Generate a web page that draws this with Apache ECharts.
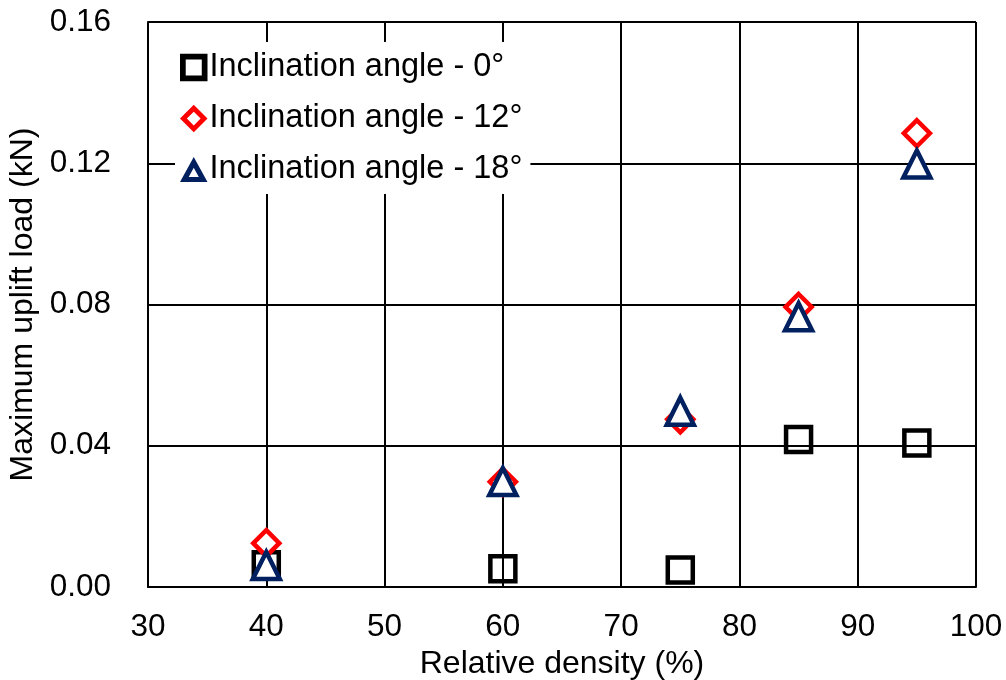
<!DOCTYPE html>
<html>
<head>
<meta charset="utf-8">
<script src="https://cdn.jsdelivr.net/npm/echarts@6/dist/echarts.min.js"></script>
<style>
  html, body { margin: 0; padding: 0; background: #fff; }
  #chart { width: 1006px; height: 680px; }
</style>
</head>
<body>
<div id="chart"></div>
<script>
// Relative density (%) of each test
const density = [40, 60, 75, 85, 95];
// Maximum uplift load (kN) for each inclination angle
const load0 = [0.0063, 0.0052, 0.0048, 0.0418, 0.0408];
const load12 = [0.0124, 0.0298, 0.0475, 0.0793, 0.1285];
const load18 = [0.0061, 0.0299, 0.0498, 0.0765, 0.1198];
const seriesNames = ['Inclination angle - 0°', 'Inclination angle - 12°', 'Inclination angle - 18°'];

const FONT = 'Liberation Sans, Arial, sans-serif';

function pairs(xs, ys) {
  return xs.map((x, i) => [x, ys[i]]);
}

const chart = echarts.init(document.getElementById('chart'), null, { renderer: 'canvas' });

// Marker styles; legend icons are thick outline rings (outer path + reversed inner hole)
const styles = [
  { symbol: 'rect', size: 25, color: 'transparent', border: '#000000',
    icon: 'path://M0,0H24V24H0Z M5,5V19H19V5Z' },
  { symbol: 'diamond', size: 26, color: '#ffffff', border: '#ff0000',
    icon: 'path://M12,0L24,12L12,24L0,12Z M12,6L6,12L12,18L18,12Z' },
  { symbol: 'triangle', size: 27, color: '#ffffff', border: '#002060',
    icon: 'path://M12,0L24,22L0,22Z M12,9.4L7.6,17.5L16.4,17.5Z' }
];
const values = [load0, load12, load18];

chart.setOption({
  animation: false,
  backgroundColor: '#ffffff',
  textStyle: { fontFamily: FONT, color: '#000' },
  grid: { left: 148, right: 30, top: 22, bottom: 93, containLabel: false, outerBoundsMode: 'none' },
  legend: {
    orient: 'vertical',
    left: 175,
    top: 42,
    padding: [9, 8, 8, 5],
    backgroundColor: '#ffffff',
    itemWidth: 27.5,
    itemHeight: 27.5,
    itemGap: 18,
    textStyle: { fontFamily: FONT, fontSize: 32.5, lineHeight: 32, color: '#000', padding: [0, 0, 0, -3] },
    data: seriesNames.map((n, i) => ({
      name: n,
      icon: styles[i].icon,
      itemStyle: { color: styles[i].border, borderWidth: 0 }
    }))
  },
  xAxis: {
    type: 'value',
    min: 30,
    max: 100,
    interval: 10,
    name: 'Relative density (%)',
    nameLocation: 'middle',
    nameGap: 60,
    nameTextStyle: { fontFamily: FONT, fontSize: 32, color: '#000' },
    axisLine: { show: true, onZero: false, lineStyle: { color: '#000', width: 2 } },
    axisTick: { show: false },
    axisLabel: { fontFamily: FONT, fontSize: 31.5, color: '#000', margin: 24 },
    splitLine: { show: true, showMinLine: true, showMaxLine: true, lineStyle: { color: '#000', width: 2 } }
  },
  yAxis: {
    type: 'value',
    min: 0,
    max: 0.16,
    interval: 0.04,
    name: 'Maximum uplift load (kN)',
    nameLocation: 'middle',
    nameGap: 107,
    nameTextStyle: { fontFamily: FONT, fontSize: 32, color: '#000' },
    axisLine: { show: true, onZero: false, lineStyle: { color: '#000', width: 2 } },
    axisTick: { show: false },
    axisLabel: {
      fontFamily: FONT, fontSize: 31.5, color: '#000', margin: 37,
      formatter: v => v.toFixed(2)
    },
    splitLine: { show: true, showMinLine: true, showMaxLine: true, lineStyle: { color: '#000', width: 2 } }
  },
  series: seriesNames.map((n, i) => ({
    name: n,
    type: 'scatter',
    symbol: styles[i].symbol,
    symbolSize: styles[i].size,
    itemStyle: { color: styles[i].color, borderColor: styles[i].border, borderWidth: 4.5, opacity: 1 },
    emphasis: { disabled: true },
    data: pairs(density, values[i]),
    z: 3 + i
  }))
});
</script>
</body>
</html>
